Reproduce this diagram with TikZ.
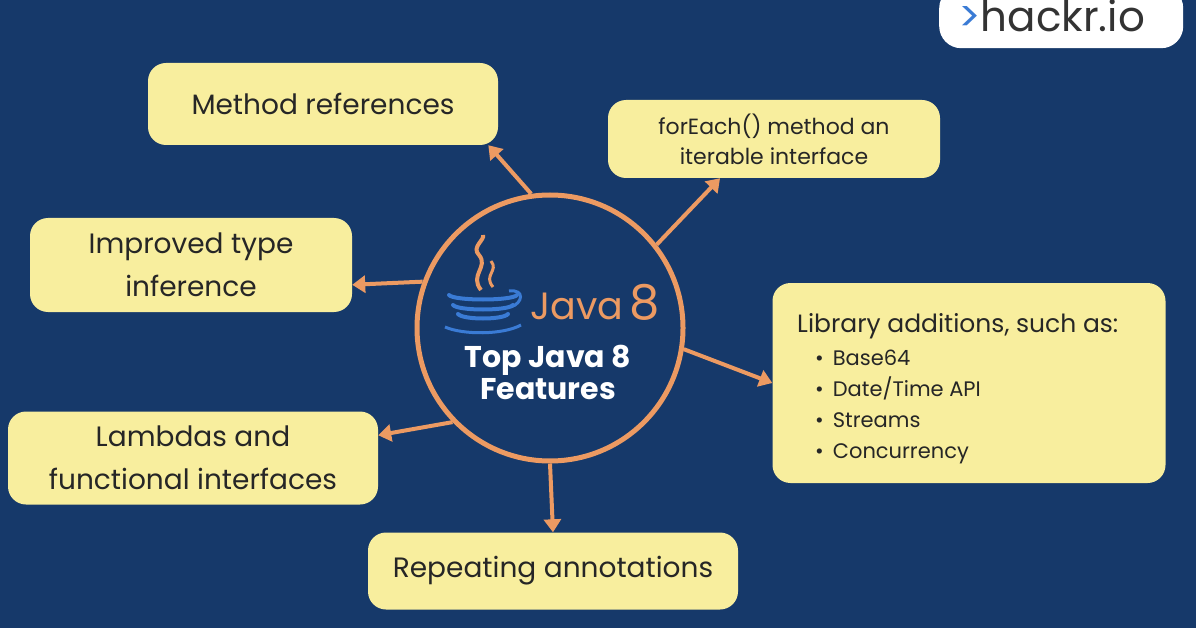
\documentclass[tikz,border=0pt]{standalone}
\usepackage{fontspec}
\setmainfont{Poppins}
\usetikzlibrary{arrows.meta}
\definecolor{bg}{HTML}{16396A}
\definecolor{box}{HTML}{F8EE9E}
\definecolor{org}{HTML}{EC9A62}
\definecolor{jblue}{HTML}{3A7BD5}
\begin{document}
\begin{tikzpicture}[x=1pt,y=-1pt,
  bx/.style={draw=none,fill=box,rounded corners=18pt,align=center,font=\fontsize{28}{43}\selectfont,text=black!85},
  arr/.style={draw=org,line width=4pt,-{Triangle[length=13pt,width=17pt]}}]
\fill[bg] (0,0) rectangle (1196,628);
\useasboundingbox (0,0) rectangle (1196,628);
% logo
\node[fill=white,rounded corners=22pt,minimum width=244pt,minimum height=62pt,anchor=north west] (logo) at (939,-14) {};
\node[anchor=west,font=\fontsize{42}{46}\selectfont,inner sep=0] (lt) at (958,16) {\textcolor{jblue}{>}\textcolor{black!80}{hackr.io}};
% boxes
\node[bx,minimum width=350pt,minimum height=82pt] (mr) at (323,104) {Method references};
\node[bx,minimum width=332pt,minimum height=78pt,font=\fontsize{22}{30}\selectfont] (fe) at (774,139) {forEach() method an\\iterable interface};
\node[bx,minimum width=322pt,minimum height=94pt] (it) at (191,265) {Improved type\\inference};
\node[bx,minimum width=393pt,minimum height=200pt] (lib) at (969,383) {};
\node[anchor=north west,font=\fontsize{25}{28}\selectfont,text=black!85,inner sep=0] (libt) at (797,313) {Library additions, such as:};
\node[anchor=north west,font=\fontsize{21}{31}\selectfont,text=black!85,inner sep=0,align=left] (libb) at (815,350) {•\hspace{9pt}Base64\\•\hspace{9pt}Date/Time API\\•\hspace{9pt}Streams\\•\hspace{9pt}Concurrency};
\node[bx,minimum width=370pt,minimum height=93pt] (la) at (193,458) {Lambdas and\\functional interfaces};
\node[bx,minimum width=370pt,minimum height=77pt] (ra) at (553,571) {Repeating annotations};
% center
\node[circle,draw=org,line width=5pt,minimum size=266pt,fill=bg] (c) at (550,328) {};
% java logo
\begin{scope}[shift={(483,295)}]
\foreach \yy/\ww in {0/34,10/30,19/25}{\draw[jblue,line width=4pt,line cap=round] (-\ww,\yy) .. controls (-\ww+5,\yy+6) and (\ww-5,\yy+6) .. (\ww,\yy);}
\draw[jblue,line width=3pt] (-38,32) .. controls (-20,40) and (20,40) .. (38,30);
\draw[jblue,line width=3pt] (26,-4) .. controls (42,-6) and (40,8) .. (28,12);
\draw[org,line width=4pt] (-2,-5) .. controls (-14,-20) and (6,-28) .. (-4,-40) .. controls (-12,-48) and (2,-55) .. (0,-60);
\draw[org,line width=3pt] (10,-8) .. controls (0,-20) and (16,-24) .. (8,-34);
\end{scope}
\node[anchor=west,text=org,font=\fontsize{38}{40}\selectfont,inner sep=0] (jv) at (530,302) {Java\,\fontsize{48}{48}\selectfont 8};
\node[text=white,font=\bfseries\fontsize{30}{32}\selectfont,align=center] (tt) at (548,372) {Top Java 8\\Features};
% arrows
\draw[arr] (c.98) -- (mr.-14);
\draw[arr] (c.38) -- (fe.216);
\draw[arr] (c.160) -- (it.353);
\draw[arr] (c.-9) -- (lib.west);
\draw[arr] (c.224) -- (la.7);
\draw[arr] (c.270) -- (ra.north);
\end{tikzpicture}
\end{document}
